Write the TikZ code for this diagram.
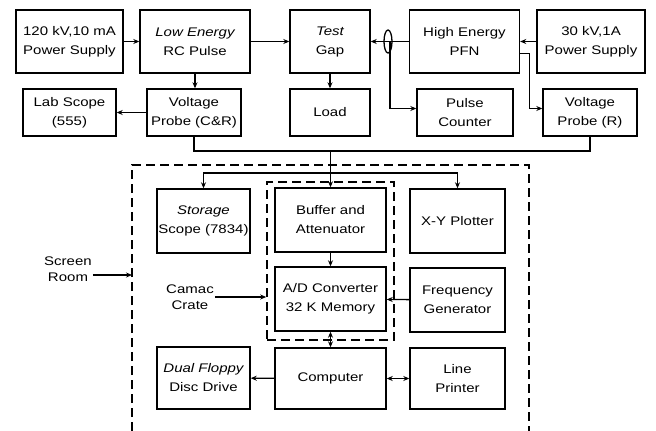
\documentclass[tikz,border=0pt]{standalone}
\usepackage{fontspec}
\setmainfont{Liberation Sans}[FakeStretch=1.2]
\usetikzlibrary{arrows.meta}

\begin{document}
\begin{tikzpicture}[x=1pt,y=-1pt,
    box/.style={draw,line width=1.4pt,inner sep=0pt,align=center,font=\fontsize{12.5}{19}\selectfont},
    lbl/.style={align=center,inner sep=1pt,font=\fontsize{12.5}{16}\selectfont},
    wire/.style={line width=1.3pt},
    arr/.style={wire,-{Stealth[length=6pt,width=5pt]}},
    dbl/.style={wire,{Stealth[length=6pt,width=5pt]}-{Stealth[length=6pt,width=5pt]}},
    room/.style={line width=1.6pt,dash pattern=on 9pt off 5pt}]
  \useasboundingbox (0,0) rectangle (656,431);
  % lab floor
  \node[box,minimum width=107,minimum height=63] (hvps) at (69.5,41.5) {120 kV,10 mA\\Power Supply};
  \node[box,minimum width=110,minimum height=63] (rcpulse) at (195,41.5) {\itshape Low Energy\\RC Pulse};
  \node[box,minimum width=80,minimum height=63] (gap) at (330,41.5) {\itshape Test\\Gap};
  \node[box,minimum width=110,minimum height=63] (pfn) at (464.5,41.5) {High Energy\\PFN};
  \node[box,minimum width=108,minimum height=63] (lvps) at (591,41.5) {30 kV,1A\\Power Supply};
  \node[box,minimum width=93,minimum height=47] (labscope) at (69.5,112.5) {Lab Scope\\(555)};
  \node[box,minimum width=94,minimum height=47] (probecr) at (194,112.5) {Voltage\\Probe (C\&R)};
  \node[box,minimum width=80,minimum height=47] (load) at (330,112.5) {Load};
  \node[box,minimum width=96,minimum height=47] (counter) at (465,112.5) {Pulse\\Counter};
  \node[box,minimum width=94,minimum height=47] (prober) at (590,112.5) {Voltage\\Probe (R)};
  % screen room
  \node[box,minimum width=93,minimum height=64] (storage) at (203.5,221) {\itshape Storage\\Scope (7834)};
  \node[box,minimum width=111,minimum height=64] (buffer) at (330.5,220) {Buffer and\\Attenuator};
  \node[box,minimum width=95,minimum height=64] (xyplot) at (457.5,221) {X-Y Plotter};
  \node[box,minimum width=111,minimum height=64] (adc) at (330.5,299) {A/D Converter\\32 K Memory};
  \node[box,minimum width=95,minimum height=64] (freqgen) at (457.5,300) {Frequency\\Generator};
  \node[box,minimum width=93,minimum height=62] (floppy) at (203.5,378) {\itshape Dual Floppy\\Disc Drive};
  \node[box,minimum width=111,minimum height=61] (computer) at (330.5,378.5) {Computer};
  \node[box,minimum width=95,minimum height=61] (printer) at (457.5,378.5) {Line\\Printer};
  \node[room,draw,minimum width=127,minimum height=158] (crate) at (330.5,261) {};
  \draw[room] (132,431) -- (132,165) -- (529,165) -- (529,431);
  \coordinate (wall) at (132,275);
  \node[lbl] (roomlbl) at (68,269) {Screen\\Room};
  \node[lbl] (camac) at (190,297) {Camac\\Crate};
  % pulse lines
  \draw[arr] (hvps) -- (rcpulse);
  \draw[arr] (rcpulse) -- (gap);
  \draw[arr] (pfn) -- (gap);
  \draw[arr] (lvps) -- (pfn);
  \coordinate (tap) at (390,41.5);
  \draw[wire] (388,41.5) ellipse (4 and 11.5);
  \draw[arr] (tap) |- ([yshift=4pt]counter.west);
  \draw[arr] ([yshift=-12pt]pfn.east) -- ++(9,0) |- ([yshift=4pt]prober.west);
  \draw[arr] (rcpulse.south) -- (rcpulse.south |- probecr.north);
  \draw[arr] (gap) -- (load);
  \draw[arr] (probecr) -- (labscope);
  % signal bus
  \coordinate (bus) at (330.5,151);
  \coordinate (split) at (330.5,173);
  \draw[wire] (probecr.south) |- (bus) -| (prober.south);
  \draw[arr] (bus) -- (buffer);
  \draw[arr] (split) -| (storage.north);
  \draw[arr] (split) -| (xyplot.north);
  \draw[arr] (buffer) -- (adc);
  \draw[dbl] (adc) -- (computer);
  \draw[arr] (freqgen) -- (adc);
  \draw[arr] (computer) -- (floppy);
  \draw[dbl] (computer) -- (printer);
  \draw[arr] ([yshift=-6pt]roomlbl.east) -- (roomlbl.east |- wall) -- (wall);
  \draw[arr] (camac.east) -- (camac.east -| crate.west);
\end{tikzpicture}
\end{document}
